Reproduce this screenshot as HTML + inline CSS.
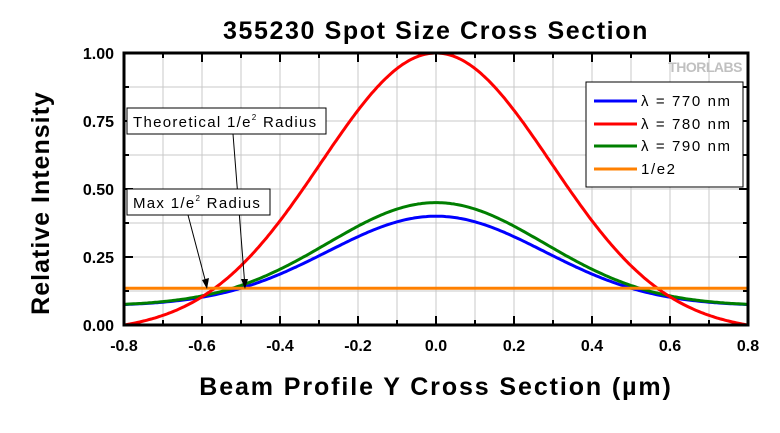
<!DOCTYPE html><html><head><style>body{margin:0;background:#fff}svg{display:block}text{font-family:"Liberation Sans",Arial,sans-serif}</style></head><body>
<svg id="s" width="780" height="433" xmlns="http://www.w3.org/2000/svg">
<g id="grid" stroke="#c8c8c8" stroke-width="1"></g>
<g id="curves" fill="none" stroke-width="3"></g>
<rect x="124" y="53" width="624" height="272" fill="none" stroke="#000" stroke-width="3"/>
<g id="ticks" stroke="#000" stroke-width="2"></g>
<g id="lbl" font-size="16" font-weight="bold" fill="#000"></g>
<text x="436" y="39" font-size="25" font-weight="bold" text-anchor="middle" letter-spacing="1.6">355230 Spot Size Cross Section</text>
<text x="436" y="395" font-size="25" font-weight="bold" text-anchor="middle" letter-spacing="1.9">Beam Profile Y Cross Section (µm)</text>
<text transform="translate(49,203) rotate(-90)" font-size="25" font-weight="bold" text-anchor="middle" letter-spacing="1">Relative Intensity</text>
<text x="742" y="72" font-size="14" font-weight="bold" fill="#c0c0c0" text-anchor="end" letter-spacing="-0.5">THORLABS</text>
<rect x="586" y="82" width="157" height="105" fill="#fff" stroke="#000" stroke-width="1"/>
<g stroke-width="3"><line x1="594" x2="637" y1="101" y2="101" stroke="#0000ff"/><line x1="594" x2="637" y1="124" y2="124" stroke="#ff0000"/><line x1="594" x2="637" y1="146" y2="146" stroke="#007f00"/><line x1="594" x2="637" y1="169" y2="169" stroke="#ff8000"/></g>
<g font-size="15" letter-spacing="1.6"><text x="641" y="106">λ = 770 nm</text><text x="641" y="129">λ = 780 nm</text><text x="641" y="151">λ = 790 nm</text><text x="641" y="174">1/e2</text></g>
<g stroke="#000" stroke-width="1"><line x1="233" y1="134" x2="245" y2="287"/><line x1="188" y1="215" x2="207" y2="287"/></g>
<polygon points="245,289 241,279 248,279" fill="#000"/><polygon points="207,289 202,280 209,278" fill="#000"/>
<rect x="127" y="108" width="199" height="26" fill="#fff" stroke="#000"/>
<text x="133" y="127" font-size="15" letter-spacing="1.3">Theoretical 1/e<tspan font-size="8" dy="-7">2</tspan><tspan dy="7"> Radius</tspan></text>
<rect x="127" y="189" width="143" height="26" fill="#fff" stroke="#000"/>
<text x="133" y="208" font-size="15" letter-spacing="1.3">Max 1/e<tspan font-size="8" dy="-7">2</tspan><tspan dy="7"> Radius</tspan></text>
</svg>
<script>
const NS="http://www.w3.org/2000/svg";
const X=v=>124+(v+0.8)*390, Y=v=>325-v*272;
function el(p,t,a,txt){const e=document.createElementNS(NS,t);for(const k in a)e.setAttribute(k,a[k]);if(txt!=null)e.textContent=txt;document.getElementById(p).appendChild(e);}
for(let i=1;i<16;i++){const x=X(-0.8+i*0.1);el("grid","line",{x1:x,x2:x,y1:53,y2:325});}
for(let i=1;i<8;i++){const y=Y(i*0.125);el("grid","line",{x1:124,x2:748,y1:y,y2:y});}
for(let i=0;i<=16;i++){const x=X(-0.8+i*0.1);el("ticks","line",{x1:x,x2:x,y1:325,y2:i%2?320:316});el("ticks","line",{x1:x,x2:x,y1:53,y2:i%2?58:62});}
for(let i=0;i<=8;i++){const y=Y(i*0.125);el("ticks","line",{x1:124,x2:i%2?129:133,y1:y,y2:y});el("ticks","line",{x1:748,x2:i%2?743:739,y1:y,y2:y});}
for(let i=0;i<=8;i++){const v=-0.8+i*0.2;el("lbl","text",{x:X(v),y:351,"text-anchor":"middle"},v.toFixed(1).replace("-0.0","0.0"));}
for(let i=0;i<=4;i++){el("lbl","text",{x:114,y:Y(i*0.25)+6,"text-anchor":"end"},(i*0.25).toFixed(2));}
function path(f,c){let d="";for(let i=0;i<=320;i++){const x=-0.8+i*0.005;d+=(i?"L":"M")+X(x).toFixed(1)+","+Y(f(x)).toFixed(1);}el("curves","path",{d:d,stroke:c});}
const s=0.278;
path(x=>0.07+0.33*Math.exp(-x*x/(2*s*s)),"#0000ff");
path(x=>0.07+0.38*Math.exp(-x*x/(2*s*s)),"#007f00");
const g=x=>Math.exp(-2*x*x/(0.59*0.59)),g8=g(0.8);
path(x=>(g(x)-g8)/(1-g8),"#ff0000");
el("curves","line",{x1:124,x2:748,y1:Y(0.135),y2:Y(0.135),stroke:"#ff8000"});
</script>
</body></html>
